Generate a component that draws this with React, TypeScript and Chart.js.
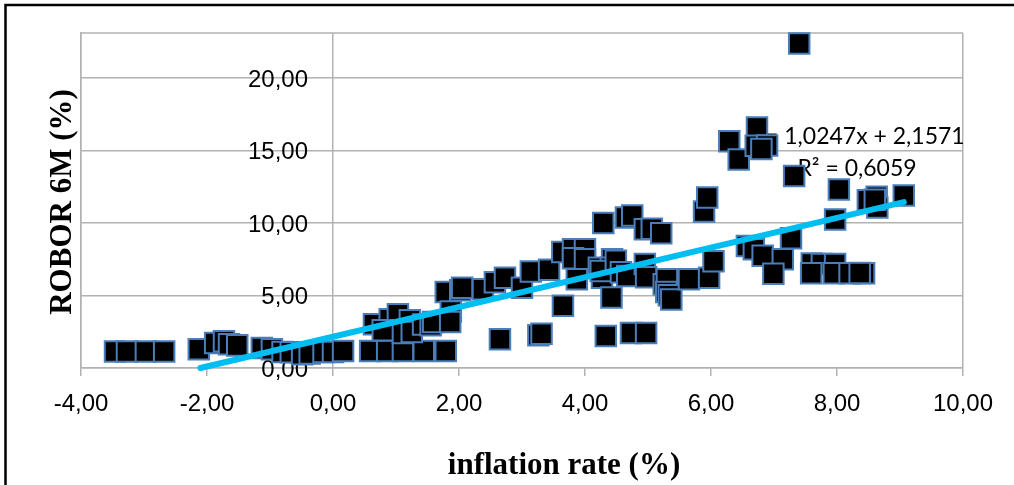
import React, { useEffect, useRef } from 'react';
import { Chart, registerables } from 'chart.js';

Chart.register(...registerables);

// ---- data ----
const INFLATION = [
  -3.46, -3.27, -2.97, -2.68, -2.13, -1.87, -1.73, -1.65, -1.52, -1.13,
  -0.97, -0.8, -0.67, -0.49, -0.37, -0.15, 0.0, 0.16, 0.59, 0.86,
  1.11, 1.44, 1.79, 0.65, 0.9, 1.03, 1.22, 0.79, 1.11, 1.25,
  1.43, 1.55, 1.59, 1.79, 1.87, 1.86, 2.02, 2.05, 2.38, 2.57,
  2.73, 3.0, 3.14, 3.43, 2.65, 3.26, 3.31, 3.64, 3.81, 4.0,
  3.81, 4.0, 3.87, 4.22, 4.27, 4.43, 4.41, 4.25, 4.49, 4.57,
  4.67, 4.42, 3.65, 4.29, 4.65, 4.75, 4.95, 5.06, 5.21, 4.95,
  4.97, 5.25, 5.3, 5.29, 5.33, 5.37, 5.65, 5.97, 6.04, 5.89,
  5.94, 4.33, 4.73, 4.97, 6.29, 6.44, 6.73, 6.71, 6.89, 6.8,
  7.32, 7.4, 8.03, 8.49, 8.63, 8.64, 8.6, 9.06, 7.97, 7.27,
  6.57, 6.68, 6.82, 7.14, 6.99, 7.6, 7.76, 7.97, 7.59, 7.95,
  8.2, 8.43, 8.36,
];
const ROBOR = [
  1.13, 1.13, 1.13, 1.13, 1.29, 1.72, 1.84, 1.63, 1.56, 1.38,
  1.29, 1.1, 1.08, 0.94, 1.0, 1.1, 1.1, 1.17, 1.17, 1.17,
  1.17, 1.17, 1.17, 3.02, 3.36, 3.7, 3.29, 2.6, 2.41, 2.48,
  3.0, 2.94, 3.17, 5.24, 3.9, 3.17, 5.36, 5.54, 5.43, 5.91,
  6.23, 5.54, 6.65, 6.78, 1.98, 2.26, 2.37, 8.0, 8.19, 8.19,
  7.57, 7.5, 6.12, 6.92, 6.23, 7.5, 6.92, 6.69, 7.4, 6.6,
  6.34, 4.86, 4.3, 10.0, 10.37, 10.51, 9.56, 9.6, 9.29, 7.17,
  6.25, 5.77, 6.12, 5.24, 5.01, 4.72, 6.12, 6.23, 7.36, 10.79,
  11.75, 2.21, 2.41, 2.41, 15.63, 14.38, 16.58, 15.33, 15.34, 15.1,
  13.24, 22.37, 12.31, 11.57, 11.8, 11.06, 11.6, 11.89, 10.24, 8.95,
  8.41, 8.19, 7.74, 7.5, 6.5, 7.2, 7.17, 7.17, 6.53, 6.53,
  6.53, 6.53, 6.55,
];
const TREND_X = [-2.105, 9.06];
const TREND_Y = [0, 11.44];
const X_TICKS = [-4, -2, 0, 2, 4, 6, 8, 10];
const Y_TICKS = [0, 5, 10, 15, 20];
const X_GRID_AT = [-4, 0, 10];
const EQUATION = ['y = 1,0247x + 2,1571', 'R\u00B2 = 0,6059'];
const X_TITLE = 'inflation rate (%)';
const Y_TITLE = 'ROBOR 6M (%)';

const GRID = '#b2b2b2';
const fmt = (v: number) => Number(v).toFixed(2).replace('.', ',');

const decorPlugin = {
  id: 'decor',
  beforeDraw(chart: any) {
    const ctx = chart.ctx;
    ctx.save();
    ctx.strokeStyle = '#000';
    ctx.lineWidth = 2.5;
    ctx.beginPath();
    ctx.moveTo(5.5, 485);
    ctx.lineTo(5.5, 5);
    ctx.lineTo(1014, 5);
    ctx.stroke();
    ctx.restore();
  },
  beforeDatasetsDraw(chart: any) {
    const ctx = chart.ctx;
    const { left, right, top } = chart.chartArea;
    const xs = chart.scales.x;
    const ys = chart.scales.y;
    ctx.save();
    // top border of plot area
    ctx.strokeStyle = GRID;
    ctx.lineWidth = 1.5;
    ctx.beginPath();
    ctx.moveTo(left, top);
    ctx.lineTo(right, top);
    ctx.stroke();

    // y tick labels placed beside the x = 0 axis
    const axisX = xs.getPixelForValue(0);
    ctx.fillStyle = '#000';
    ctx.font = '24px "Liberation Sans", Arial, sans-serif';
    ctx.textAlign = 'right';
    ctx.textBaseline = 'middle';
    Y_TICKS.forEach((v) => {
      ctx.fillText(fmt(v), axisX - 25, ys.getPixelForValue(v) + 2);
    });

    // trendline equation
    ctx.font = '23px Lato, "Open Sans", sans-serif';
    ctx.textAlign = 'center';
    ctx.textBaseline = 'middle';
    ctx.fillText(EQUATION[0], 856, 137);
    ctx.fillText(EQUATION[1], 857, 169);

    // axis titles
    ctx.font = 'bold 31px "Liberation Serif", "Times New Roman", serif';
    ctx.textAlign = 'center';
    ctx.textBaseline = 'alphabetic';
    ctx.fillText(X_TITLE, 564, 474);
    ctx.save();
    ctx.translate(71, 202);
    ctx.rotate(-Math.PI / 2);
    ctx.fillText(Y_TITLE, 0, 0);
    ctx.restore();
    ctx.restore();
  },
};

export default function App() {
  const ref = useRef<HTMLCanvasElement | null>(null);
  useEffect(() => {
    if (!ref.current) return;
    const chart = new Chart(ref.current, {
      type: 'scatter',
      data: {
        datasets: [
          {
            label: 'trend',
            data: TREND_X.map((x, i) => ({ x, y: TREND_Y[i] })),
            showLine: true,
            borderColor: '#00BEF2',
            borderWidth: 6,
            borderCapStyle: 'round',
            pointRadius: 0,
            pointHoverRadius: 0,
            clip: false,
          } as any,
          {
            label: 'ROBOR 6M',
            data: INFLATION.map((x, i) => ({ x, y: ROBOR[i] })),
            pointStyle: 'rect',
            pointRadius: 14.5,
            pointHoverRadius: 14.5,
            backgroundColor: '#000',
            borderColor: '#4A7EBB',
            borderWidth: 2,
            clip: false,
          } as any,
        ],
      },
      options: {
        animation: false,
        responsive: true,
        maintainAspectRatio: false,
        layout: { padding: { left: 81, right: 51, top: 33, bottom: 0 } },
        plugins: { legend: { display: false }, tooltip: { enabled: false } },
        events: [],
        scales: {
          x: {
            type: 'linear',
            min: -4,
            max: 10,
            afterBuildTicks: (s: any) => {
              s.ticks = X_TICKS.map((v) => ({ value: v }));
            },
            afterFit: (s: any) => {
              s.height = 117;
            },
            ticks: {
              callback: (v: any) => fmt(v),
              font: { family: '"Liberation Sans", Arial, sans-serif', size: 24 },
              color: '#000',
              padding: 14,
              maxRotation: 0,
              autoSkip: false,
            },
            grid: {
              color: (c: any) => (c.tick && X_GRID_AT.includes(c.tick.value) ? GRID : 'rgba(0,0,0,0)'),
              lineWidth: 1.5,
              tickLength: 8,
              tickColor: GRID,
              tickWidth: 1.5,
            },
            border: { display: true, color: GRID, width: 1.5 },
          },
          y: {
            type: 'linear',
            min: 0,
            max: 23.1,
            afterBuildTicks: (s: any) => {
              s.ticks = Y_TICKS.map((v) => ({ value: v }));
            },
            afterFit: (s: any) => {
              s.width = 0;
            },
            ticks: { display: false },
            grid: { color: GRID, lineWidth: 1.5, drawTicks: false },
            border: { display: true, color: GRID, width: 1.5 },
          },
        },
      } as any,
      plugins: [decorPlugin],
    });
    return () => chart.destroy();
  }, []);

  return (
    <div style={{ position: 'fixed', left: 0, top: 0, width: 1014, height: 485, background: '#fff' }}>
      <canvas ref={ref} />
    </div>
  );
}
